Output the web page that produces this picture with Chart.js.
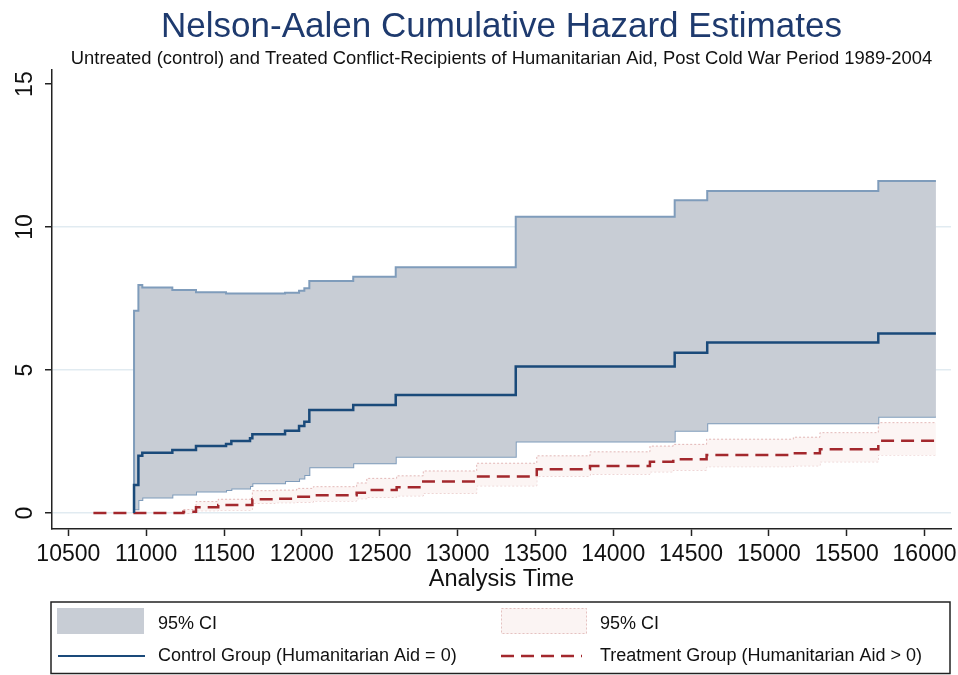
<!DOCTYPE html>
<html>
<head>
<meta charset="utf-8">
<title>Nelson-Aalen Cumulative Hazard Estimates</title>
<script src="https://cdn.jsdelivr.net/npm/chart.js"></script>
<style>
  html, body { margin: 0; padding: 0; background: #fff; }
  #wrap { width: 958px; height: 675px; }
</style>
</head>
<body>
<div id="wrap"><canvas id="hazardChart" width="958" height="675"></canvas></div>
<script>
// control group (humanitarian aid = 0)
const ctrlTime  = [10922, 10922, 10950, 10975, 11168, 11320, 11513, 11547, 11667, 11682, 11892, 11982, 12016, 12048, 12330, 12603, 13374, 14395, 14604, 15703, 16073];
const ctrlHaz   = [0, 0.98, 2.0, 2.11, 2.2, 2.34, 2.41, 2.52, 2.61, 2.75, 2.88, 3.04, 3.19, 3.6, 3.78, 4.13, 5.12, 5.6, 5.96, 6.28, 6.28];
const ctrlLower = [0, 0.13, 0.45, 0.54, 0.65, 0.75, 0.8, 0.86, 0.94, 1.04, 1.12, 1.21, 1.33, 1.6, 1.74, 1.97, 2.5, 2.88, 3.14, 3.37, 3.37];
const ctrlUpper = [0, 7.07, 7.97, 7.89, 7.8, 7.72, 7.68, 7.68, 7.68, 7.68, 7.7, 7.77, 7.86, 8.11, 8.26, 8.59, 10.36, 10.94, 11.26, 11.61, 11.61];

// treatment group (humanitarian aid > 0)
const treatTime  = [10661, 11239, 11320, 11463, 11682, 11828, 11967, 12074, 12352, 12417, 12609, 12780, 13123, 13509, 13851, 14236, 14386, 14600, 15157, 15328, 15703, 16073];
const treatHaz   = [0, 0.04, 0.2, 0.28, 0.48, 0.5, 0.57, 0.62, 0.71, 0.8, 0.9, 1.1, 1.28, 1.53, 1.64, 1.79, 1.88, 2.03, 2.09, 2.23, 2.53, 2.58];
const treatLower = [null, 0, 0.08, 0.1, 0.34, 0.36, 0.38, 0.42, 0.5, 0.55, 0.6, 0.69, 0.95, 1.29, 1.36, 1.44, 1.5, 1.62, 1.65, 1.79, 2.03, 2.03];
const treatUpper = [null, 0.12, 0.4, 0.48, 0.78, 0.8, 0.86, 0.92, 1.05, 1.21, 1.3, 1.47, 1.74, 2.0, 2.14, 2.34, 2.4, 2.58, 2.65, 2.81, 3.16, 3.16];

const xTicks = [10500, 11000, 11500, 12000, 12500, 13000, 13500, 14000, 14500, 15000, 15500, 16000];
const yTicks = [0, 5, 10, 15];
const xRange = [10395, 16170];
const yRange = [-0.56, 15.49];

const FONT = "'Liberation Sans', Arial, Helvetica, sans-serif";

function pts(xs, ys) {
    return xs.map(function (x, i) { return {x: x, y: ys[i]}; });
}

// stata style rotated y labels
const yLabelPlugin = {
    id: 'yLabels',
    afterDraw: function (chart) {
        const ctx = chart.ctx;
        const y = chart.scales.y;
        ctx.save();
        ctx.font = '23px ' + FONT;
        ctx.fillStyle = '#111';
        ctx.textAlign = 'center';
        ctx.textBaseline = 'middle';
        yTicks.forEach(function (v) {
            ctx.save();
            ctx.translate(26, y.getPixelForValue(v));
            ctx.rotate(-Math.PI / 2);
            ctx.fillText(String(v), 0, 0);
            ctx.restore();
        });
        ctx.restore();
    }
};

const legendBoxPlugin = {
    id: 'legendBox',
    afterDraw: function (chart) {
        const ctx = chart.ctx;
        ctx.save();
        ctx.strokeStyle = '#222';
        ctx.lineWidth = 1.5;
        ctx.strokeRect(51, 602, 899, 71.5);

        // swatches
        ctx.fillStyle = '#c8cdd5';
        ctx.fillRect(57, 608, 87, 26);
        ctx.fillStyle = '#fbf4f3';
        ctx.fillRect(501, 608, 86, 26);
        ctx.strokeStyle = 'rgba(215,160,160,0.6)';
        ctx.lineWidth = 1;
        ctx.setLineDash([2, 2]);
        ctx.strokeRect(501.5, 608.5, 85, 25);

        ctx.setLineDash([]);
        ctx.strokeStyle = '#1a4a7a';
        ctx.lineWidth = 2;
        ctx.beginPath(); ctx.moveTo(58, 656); ctx.lineTo(145, 656); ctx.stroke();

        ctx.setLineDash([13, 7]);
        ctx.strokeStyle = '#a3282d';
        ctx.lineWidth = 2.5;
        ctx.beginPath(); ctx.moveTo(501, 656); ctx.lineTo(582, 656); ctx.stroke();

        ctx.setLineDash([]);
        ctx.fillStyle = '#111';
        ctx.font = '18px ' + FONT;
        ctx.textBaseline = 'middle';
        ctx.fillText('95% CI', 158, 624);
        ctx.fillText('95% CI', 600, 624);
        ctx.fillText('Control Group (Humanitarian Aid = 0)', 158, 656);
        ctx.fillText('Treatment Group (Humanitarian Aid > 0)', 600, 656);
        ctx.restore();
    }
};

function createHazardChart() {
    const ctx = document.getElementById('hazardChart').getContext('2d');
    const hazardChart = new Chart(ctx, {
        type: 'line',
        data: {
            datasets: [{
                label: 'Control Group (Humanitarian Aid = 0)',
                data: pts(ctrlTime, ctrlHaz),
                borderColor: '#1a4a7a',
                borderWidth: 2.5,
                stepped: 'before',
                fill: false
            }, {
                label: 'Treatment Group (Humanitarian Aid > 0)',
                data: pts(treatTime, treatHaz),
                borderColor: '#a3282d',
                borderWidth: 2.5,
                borderDash: [13, 7],
                stepped: 'before',
                fill: false
            }, {
                label: '95% CI',
                data: pts(ctrlTime, ctrlUpper),
                borderColor: '#7f9cbb',
                borderWidth: 2,
                backgroundColor: '#c8cdd5',
                stepped: 'before',
                fill: 3
            }, {
                label: 'ctrl lower',
                data: pts(ctrlTime, ctrlLower),
                borderColor: '#7f9cbb',
                borderWidth: 2,
                stepped: 'before',
                fill: false
            }, {
                label: '95% CI',
                data: pts(treatTime, treatUpper),
                borderColor: 'rgba(210,140,140,0.6)',
                borderWidth: 1,
                borderDash: [2, 2],
                backgroundColor: '#fcf5f4',
                stepped: 'before',
                fill: 5
            }, {
                label: 'treat lower',
                data: pts(treatTime, treatLower),
                borderColor: 'rgba(210,140,140,0.6)',
                borderWidth: 1,
                borderDash: [2, 2],
                stepped: 'before',
                fill: false
            }]
        },
        options: {
            responsive: false,
            animation: false,
            devicePixelRatio: 1,
            elements: { point: { radius: 0, hoverRadius: 0 } },
            layout: { padding: { top: 0, right: 7, bottom: 80, left: 52 } },
            plugins: {
                legend: { display: false },
                tooltip: { enabled: false },
                title: {
                    display: true,
                    text: 'Nelson-Aalen Cumulative Hazard Estimates',
                    color: '#1e3a6e',
                    font: { family: FONT, size: 35, weight: 'normal' },
                    padding: { top: 6, bottom: 0 }
                },
                subtitle: {
                    display: true,
                    text: 'Untreated (control) and Treated Conflict-Recipients of Humanitarian Aid, Post Cold War Period 1989-2004',
                    color: '#111',
                    font: { family: FONT, size: 18.4, weight: 'normal' },
                    padding: { top: 0, bottom: 0 }
                }
            },
            scales: {
                x: {
                    type: 'linear',
                    min: xRange[0],
                    max: xRange[1],
                    afterBuildTicks: function (scale) {
                        scale.ticks = xTicks.map(function (v) { return {value: v}; });
                    },
                    afterFit: function (scale) {
                        scale.height = 66;
                        scale.paddingLeft = 0;
                        scale.paddingRight = 0;
                    },
                    border: { display: true, color: '#222', width: 1.5 },
                    grid: { drawOnChartArea: false, drawTicks: true, tickLength: 7, tickColor: '#222', tickWidth: 1.5 },
                    ticks: {
                        autoSkip: false,
                        maxRotation: 0,
                        padding: 5,
                        color: '#111',
                        font: { family: FONT, size: 23 },
                        callback: function (v) { return String(v); }
                    },
                    title: {
                        display: true,
                        text: 'Analysis Time',
                        color: '#111',
                        font: { family: FONT, size: 23.5 },
                        padding: { top: 0, bottom: 1 }
                    }
                },
                y: {
                    type: 'linear',
                    min: yRange[0],
                    max: yRange[1],
                    afterBuildTicks: function (scale) {
                        scale.ticks = yTicks.map(function (v) { return {value: v}; });
                    },
                    afterFit: function (scale) {
                        scale.width = 0;
                        scale.paddingTop = 0;
                        scale.paddingBottom = 0;
                    },
                    border: { display: true, color: '#222', width: 1.5 },
                    grid: {
                        color: function (c) { return c.tick && c.tick.value === 15 ? 'rgba(0,0,0,0)' : '#e1ebf1'; },
                        lineWidth: 1.5,
                        drawTicks: true,
                        tickLength: 7,
                        tickColor: '#222',
                        tickWidth: 1.5
                    },
                    ticks: { display: false }
                }
            }
        },
        plugins: [yLabelPlugin, legendBoxPlugin]
    });
}

createHazardChart();
</script>
</body>
</html>
